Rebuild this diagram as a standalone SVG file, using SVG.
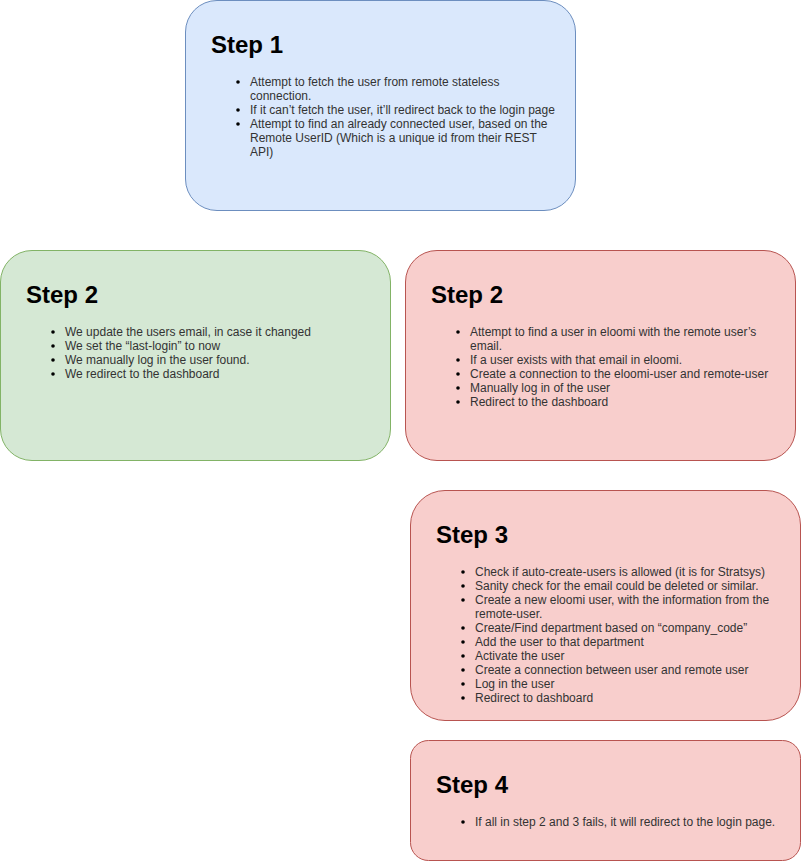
<svg xmlns="http://www.w3.org/2000/svg" width="801" height="861" viewBox="0 0 801 861">
<style>
.blue{fill:#dae8fc;stroke:#6c8ebf;stroke-width:1}
.green{fill:#d5e8d4;stroke:#82b366;stroke-width:1}
.red{fill:#f8cecc;stroke:#b85450;stroke-width:1}
.title{font-family:"Liberation Sans",Arial,sans-serif;font-size:24px;font-weight:bold;fill:#000}
.txt{font-family:"Liberation Sans",Arial,sans-serif;font-size:12px;fill:#333}
.dot{fill:#000}
</style>
<rect width="801" height="861" fill="#fff"/>
<g id="step1">
<rect class="blue" x="185.5" y="0.5" width="390" height="210" rx="31.5" ry="31.5"/>
<text class="title" x="211" y="53">Step 1</text>
<circle class="dot" cx="238" cy="82" r="1.8"/>
<circle class="dot" cx="238" cy="110" r="1.8"/>
<circle class="dot" cx="238" cy="124" r="1.8"/>
<text class="txt" x="250" y="86">Attempt to fetch the user from remote stateless</text>
<text class="txt" x="250" y="100">connection.</text>
<text class="txt" x="250" y="114">If it can’t fetch the user, it’ll redirect back to the login page</text>
<text class="txt" x="250" y="128">Attempt to find an already connected user, based on the</text>
<text class="txt" x="250" y="142">Remote UserID (Which is a unique id from their REST</text>
<text class="txt" x="250" y="156">API)</text>
</g>
<g id="step2-green">
<rect class="green" x="0.5" y="250.5" width="390" height="210" rx="31.5" ry="31.5"/>
<text class="title" x="26" y="303">Step 2</text>
<circle class="dot" cx="53" cy="332" r="1.8"/>
<circle class="dot" cx="53" cy="346" r="1.8"/>
<circle class="dot" cx="53" cy="360" r="1.8"/>
<circle class="dot" cx="53" cy="374" r="1.8"/>
<text class="txt" x="65" y="336">We update the users email, in case it changed</text>
<text class="txt" x="65" y="350">We set the “last-login” to now</text>
<text class="txt" x="65" y="364">We manually log in the user found.</text>
<text class="txt" x="65" y="378">We redirect to the dashboard</text>
</g>
<g id="step2-red">
<rect class="red" x="405.5" y="250.5" width="390" height="210" rx="31.5" ry="31.5"/>
<text class="title" x="431" y="303">Step 2</text>
<circle class="dot" cx="458" cy="332" r="1.8"/>
<circle class="dot" cx="458" cy="360" r="1.8"/>
<circle class="dot" cx="458" cy="374" r="1.8"/>
<circle class="dot" cx="458" cy="388" r="1.8"/>
<circle class="dot" cx="458" cy="402" r="1.8"/>
<text class="txt" x="470" y="336">Attempt to find a user in eloomi with the remote user’s</text>
<text class="txt" x="470" y="350">email.</text>
<text class="txt" x="470" y="364">If a user exists with that email in eloomi.</text>
<text class="txt" x="470" y="378">Create a connection to the eloomi-user and remote-user</text>
<text class="txt" x="470" y="392">Manually log in of the user</text>
<text class="txt" x="470" y="406">Redirect to the dashboard</text>
</g>
<g id="step3">
<rect class="red" x="410.5" y="490.5" width="390" height="230" rx="34.5" ry="34.5"/>
<text class="title" x="436" y="543">Step 3</text>
<circle class="dot" cx="463" cy="572" r="1.8"/>
<circle class="dot" cx="463" cy="586" r="1.8"/>
<circle class="dot" cx="463" cy="600" r="1.8"/>
<circle class="dot" cx="463" cy="628" r="1.8"/>
<circle class="dot" cx="463" cy="642" r="1.8"/>
<circle class="dot" cx="463" cy="656" r="1.8"/>
<circle class="dot" cx="463" cy="670" r="1.8"/>
<circle class="dot" cx="463" cy="684" r="1.8"/>
<circle class="dot" cx="463" cy="698" r="1.8"/>
<text class="txt" x="475" y="576">Check if auto-create-users is allowed (it is for Stratsys)</text>
<text class="txt" x="475" y="590">Sanity check for the email could be deleted or similar.</text>
<text class="txt" x="475" y="604">Create a new eloomi user, with the information from the</text>
<text class="txt" x="475" y="618">remote-user.</text>
<text class="txt" x="475" y="632">Create/Find department based on “company_code”</text>
<text class="txt" x="475" y="646">Add the user to that department</text>
<text class="txt" x="475" y="660">Activate the user</text>
<text class="txt" x="475" y="674">Create a connection between user and remote user</text>
<text class="txt" x="475" y="688">Log in the user</text>
<text class="txt" x="475" y="702">Redirect to dashboard</text>
</g>
<g id="step4">
<rect class="red" x="410.5" y="740.5" width="390" height="120" rx="18" ry="18"/>
<text class="title" x="436" y="793">Step 4</text>
<circle class="dot" cx="463" cy="822" r="1.8"/>
<text class="txt" x="475" y="826">If all in step 2 and 3 fails, it will redirect to the login page.</text>
</g>
<g id="connectors"/>
</svg>
